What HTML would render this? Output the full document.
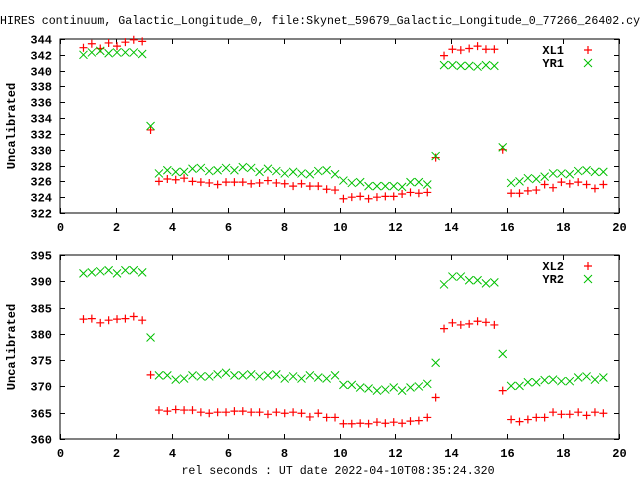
<!DOCTYPE html>
<html><head><meta charset="utf-8"><style>
html,body{margin:0;padding:0;background:#fff}
svg{display:block}
text{font-family:"Liberation Mono","DejaVu Sans Mono",monospace;font-size:12px;font-weight:bold;fill:#000}
</style></head><body>
<svg id="c" width="640" height="480" xmlns="http://www.w3.org/2000/svg">
<text x="0" y="24" style="font-weight:normal;font-size:11.6px">HIRES continuum, Galactic_Longitude_0, file:Skynet_59679_Galactic_Longitude_0_77266_26402.cyc</text>
<text x="338" y="474" text-anchor="middle" style="font-weight:normal;font-size:11.6px">rel seconds : UT date 2022-04-10T08:35:24.320</text>
</svg>
<script>
const times = [0.84,1.14,1.44,1.74,2.04,2.34,2.64,2.94,3.24,3.54,3.84,4.14,4.44,4.74,5.04,5.34,5.64,5.94,6.24,6.54,6.84,7.14,7.44,7.74,8.04,8.34,8.64,8.94,9.24,9.54,9.84,10.14,10.44,10.74,11.04,11.34,11.64,11.94,12.24,12.54,12.84,13.14,13.44,13.74,14.04,14.34,14.64,14.94,15.24,15.54,15.84,16.14,16.44,16.74,17.04,17.34,17.64,17.94,18.24,18.54,18.84,19.14,19.44];
const xl1 = [342.9,343.4,342.8,343.5,343.1,343.6,343.9,343.7,332.5,326.0,326.3,326.2,326.4,326.0,325.9,325.8,325.6,325.9,325.9,325.9,325.7,325.8,326.1,325.8,325.7,325.4,325.7,325.4,325.4,325.0,324.9,323.8,324.0,324.1,323.8,324.0,324.1,324.1,324.4,324.6,324.5,324.6,329.0,341.9,342.7,342.6,342.8,343.1,342.7,342.7,330.0,324.5,324.5,324.8,324.9,325.6,325.2,325.9,325.7,325.9,325.6,325.1,325.6];
const yr1 = [342.0,342.3,342.5,342.2,342.3,342.3,342.3,342.1,333.0,327.0,327.4,327.2,327.2,327.6,327.7,327.3,327.4,327.7,327.4,327.8,327.7,327.2,327.6,327.3,327.0,327.2,327.0,326.9,327.3,327.4,326.9,326.1,325.8,325.9,325.4,325.4,325.4,325.4,325.3,325.9,325.9,325.6,329.2,340.7,340.7,340.6,340.6,340.5,340.7,340.6,330.3,325.8,326.0,326.4,326.3,326.6,327.0,327.0,326.9,327.3,327.4,327.2,327.2];
const xl2 = [382.8,382.9,382.1,382.6,382.8,382.9,383.3,382.6,372.2,365.5,365.3,365.6,365.5,365.5,365.1,364.9,365.1,365.1,365.3,365.3,365.1,365.1,364.7,365.1,364.9,365.1,364.9,364.2,364.9,364.1,364.1,362.9,362.9,363.0,362.9,363.2,363.0,363.2,363.0,363.4,363.5,364.1,367.9,381.0,382.1,381.7,381.9,382.4,382.2,381.7,369.2,363.7,363.3,363.7,364.1,364.1,365.1,364.7,364.7,365.1,364.5,365.1,364.9];
const yr2 = [391.5,391.7,391.9,392.1,391.5,392.1,392.1,391.7,379.3,372.1,372.1,371.3,371.5,372.1,371.9,371.9,372.3,372.6,372.1,372.1,372.3,371.9,372.1,372.3,371.5,371.9,371.5,372.1,371.7,371.5,372.1,370.3,370.3,369.8,369.6,369.2,369.4,369.8,369.2,369.8,370.0,370.5,374.5,389.4,390.9,390.9,390.2,390.2,389.6,389.8,376.2,370.1,370.1,370.8,370.8,371.2,371.3,371.0,371.0,371.7,371.9,371.3,371.7];
const xTicks = [0,2,4,6,8,10,12,14,16,18,20];
const yTicks1 = [322,324,326,328,330,332,334,336,338,340,342,344];
const yTicks2 = [360,365,370,375,380,385,390,395];
const names1 = ["XL1","YR1"];
const names2 = ["XL2","YR2"];

const svg = document.getElementById('c');
const NS = 'http://www.w3.org/2000/svg';
const L = 60, R = 619;
function mk(tag, attrs, parent){const e=document.createElementNS(NS,tag);for(const k in attrs)e.setAttribute(k,attrs[k]);(parent||svg).appendChild(e);return e;}
function xs(v){return L + (v-0)/(20-0)*(R-L);}

function panel(top, bot, ymin, ymax, yTicks, sA, sB, names, id){
  const g = mk('g',{});
  
  
  const ys = v => bot - (v-ymin)/(ymax-ymin)*(bot-top);
  const box = mk('rect',{x:L,y:top,width:R-L,height:bot-top,fill:'none',stroke:'#000','stroke-width':1},g);
  
  
  yTicks.forEach(t=>{
    const y = Math.round(ys(t))+0.5;
    const tk = mk('path',{d:`M${L} ${y}h5M${R} ${y}h-5`,stroke:'#000'},g);
    
    
    const tx = mk('text',{x:L-8,y:y+4,'text-anchor':'end'},g);
    tx.textContent = t;
    
    
  });
  xTicks.forEach(t=>{
    const x = Math.round(xs(t))+0.5;
    const tk = mk('path',{d:`M${x} ${bot}v-5M${x} ${top}v5`,stroke:'#000'},g);
    
    
    const tx = mk('text',{x:x,y:bot+18,'text-anchor':'middle'},g);
    tx.textContent = t;
    
    
  });
  const yl = mk('text',{transform:`translate(15 ${(top+bot)/2}) rotate(-90)`,'text-anchor':'middle'},g);
  yl.textContent = 'Uncalibrated';
  
  
  const plus = (x,y,col,p)=>mk('path',{d:`M${x-4} ${y}h8M${x} ${y-4}v8`,stroke:col,'stroke-width':1.2,fill:'none'},p);
  const cross = (x,y,col,p)=>mk('path',{d:`M${x-4} ${y-4}l8 8M${x-4} ${y+4}l8 -8`,stroke:col,'stroke-width':1,fill:'none'},p);
  const gA = mk('g',{},g);
  
  
  const gB = mk('g',{},g);
  
  
  times.forEach((t,i)=>{
    const p = plus(xs(t), ys(sA[i]), '#ff0000', gA);
    
    
  });
  times.forEach((t,i)=>{
    const p = cross(xs(t), ys(sB[i]), '#00c000', gB);
    
    
  });
  names.forEach((n,k)=>{
    const y = top + 11 + k*13;
    const lg = mk('g',{},g);
    
    
    const tx = mk('text',{x:564,y:y+4,'text-anchor':'end'},lg);
    tx.textContent = n;
    if(k===0) plus(588,y,'#ff0000',lg); else cross(588,y,'#00c000',lg);
  });
}
panel(39, 213, 322, 344, yTicks1, xl1, yr1, names1, 'top');
panel(255, 439, 360, 395, yTicks2, xl2, yr2, names2, 'bottom');
</script>
</body></html>
